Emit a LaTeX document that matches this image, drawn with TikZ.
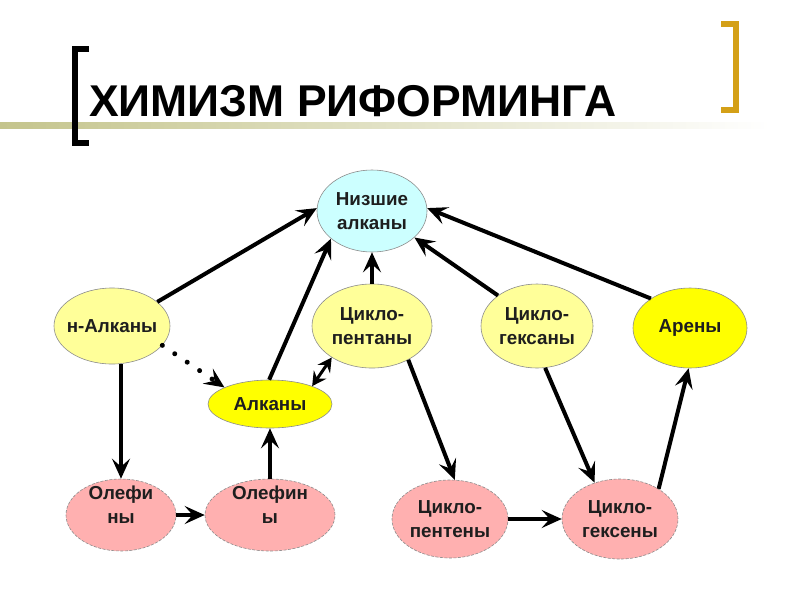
\documentclass[tikz,border=0pt]{standalone}
\usepackage{fontspec}
\setmainfont{Liberation Sans}
\usetikzlibrary{arrows.meta,shapes.geometric}
\definecolor{cyanfill}{RGB}{204,255,255}
\definecolor{lyellow}{RGB}{255,255,153}
\definecolor{yellowfill}{RGB}{255,255,0}
\definecolor{pinkfill}{RGB}{255,176,176}
\definecolor{goldbr}{RGB}{212,160,23}
\definecolor{olivebar}{RGB}{196,196,140}
\definecolor{txt}{RGB}{30,30,30}
\begin{document}
\begin{tikzpicture}[x=1pt,y=-1pt,
  lbl/.style={font=\bfseries\fontsize{18.8}{24}\selectfont, text=txt, align=center},
  ell/.style={ellipse, draw=black!45, line width=0.6pt, inner sep=0pt, lbl},
  cyell/.style={ell, fill=cyanfill},
  lyell/.style={ell, fill=lyellow},
  yell/.style={ell, fill=yellowfill},
  pell/.style={ell, fill=pinkfill, dashed, dash pattern=on 3pt off 1.5pt},
  arr/.style={line width=4pt, -{Stealth[length=20pt,width=18pt,inset=8pt]}},
  dotarr/.style={line width=5pt, line cap=round, dash pattern=on 0.01pt off 15pt, -{Stealth[length=20pt,width=18pt,inset=8pt]}},
  darr/.style={line width=3pt, {Stealth[length=14pt,width=15pt,inset=5pt]}-{Stealth[length=14pt,width=15pt,inset=5pt]}}
]
\useasboundingbox (0,0) rectangle (800,600);
\fill[white] (0,0) rectangle (800,600);
% title decoration
\shade[left color=olivebar, right color=white] (0,122) rectangle (770,128);
\draw[line width=6pt, black, line join=miter] (89,49) -- (75,49) -- (75,143) -- (89,143);
\draw[line width=6pt, goldbr, line join=miter] (721,24) -- (736,24) -- (736,110) -- (721,110);
\node[anchor=base west, inner sep=0pt, font=\bfseries\fontsize{44.5}{44.5}\selectfont, text=black] (title) at (89,116) {ХИМИЗМ РИФОРМИНГА};
% nodes
\node[cyell, minimum width=110pt, minimum height=82pt] (nizh) at (372,211) {Низшие\\алканы};
\node[lyell, inner xsep=-7pt, minimum width=116pt, minimum height=76pt] (nalk) at (112,326) {н-Алканы};
\node[lyell, minimum width=120pt, minimum height=84pt] (cp) at (372,326) {Цикло-\\пентаны};
\node[lyell, minimum width=112pt, minimum height=84pt] (cg) at (537,326) {Цикло-\\гексаны};
\node[yell, minimum width=114pt, minimum height=80pt] (aren) at (690,328) {Арены};
\node[yell, minimum width=124pt, minimum height=48pt] (alk) at (270,404) {Алканы};
\node[pell, minimum width=110pt, minimum height=72pt] (ol1) at (121,515) {};
\node[lbl] (ol1t) at (121,505) {Олефи\\ны};
\node[pell, minimum width=130pt, minimum height=72pt] (ol2) at (270,515) {};
\node[lbl] (ol2t) at (270,505) {Олефин\\ы};
\node[pell, minimum width=116pt, minimum height=78pt] (cpe) at (450,519) {Цикло-\\пентены};
\node[pell, minimum width=116pt, minimum height=80pt] (cge) at (620,519) {Цикло-\\гексены};
% connectors
\draw[arr] (nalk.28) -- (nizh.177);
\draw[arr] (alk.92) -- (nizh.214);
\draw[arr] (cp.north) -- (nizh.south);
\draw[arr] (cg.142) -- (nizh.328);
\draw[arr] (aren.143) -- (nizh.3);
\draw[dotarr] (nalk.-21) -- (alk.160);
\draw[darr] (alk.23) -- (cp.218);
\draw[arr] (ol1.north |- nalk.south) -- (ol1.north);
\draw[arr] (ol1.east) -- (ol2.west);
\draw[arr] (ol2.north) -- (alk.south);
\draw[arr] (cp.-43) -- (cpe.83);
\draw[arr] (cg.-79) -- (cge.125);
\draw[arr] (cpe.east) -- (cge.west);
\draw[arr] (cge.38) -- (aren.268);
\end{tikzpicture}
\end{document}
